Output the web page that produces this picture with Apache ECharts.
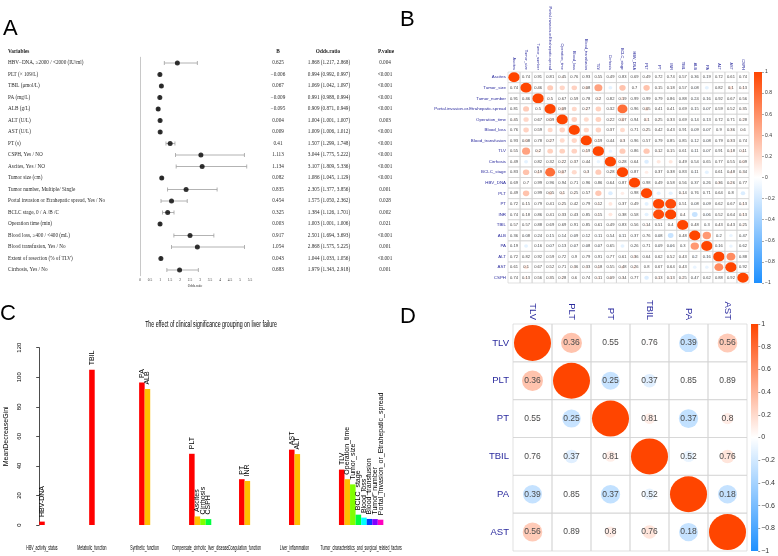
<!DOCTYPE html>
<html><head><meta charset="utf-8">
<script src="https://cdn.jsdelivr.net/npm/echarts@6/dist/echarts.min.js"></script>
<style>html,body{margin:0;padding:0;background:#fff}#main{width:778px;height:556px}</style>
</head><body><div id="main"></div>
<script>
// ================= Panel A data =================
const aHeaders = ['Variables', 'B', 'Odds.ratio', 'P.value'];
const aVariables = [
  'HBV\u2212DNA, \u22652000 / <2000 (IU/ml)', 'PLT (\u00d7 109/L)', 'TBIL (\u03bcmol/L)', 'PA (mg/L)', 'ALB (g/L)',
  'ALT (U/L)', 'AST (U/L)', 'PT (s)', 'CSPH, Yes / NO', 'Ascites, Yes / NO', 'Tumor size (cm)',
  'Tumor number, Multiple/ Single', 'Portal invasion or Etrahepatic spread, Yes / No', 'BCLC stage, 0 / A /B /C',
  'Operation time (min)', 'Blood loss, \u2265400 / <400 (mL)', 'Blood transfusion, Yes / No',
  'Extent of resection (% of TLV)', 'Cirrhosis, Yes / No'
];
const aBeta = [0.625, -0.006, 0.067, -0.009, -0.095, 0.004, 0.009, 0.41, 1.113, 1.134, 0.082, 0.835, 0.454, 0.325, 0.003, 0.917, 1.054, 0.043, 0.683];
const aOR   = [1.868, 0.994, 1.069, 0.991, 0.909, 1.004, 1.009, 1.507, 3.044, 3.107, 1.086, 2.305, 1.575, 1.384, 1.003, 2.501, 2.868, 1.044, 1.979];
const aLow  = [1.217, 0.992, 1.042, 0.988, 0.871, 1.001, 1.006, 1.299, 1.775, 1.809, 1.045, 1.377, 1.050, 1.126, 1.001, 1.694, 1.575, 1.033, 1.343];
const aHigh = [2.868, 0.997, 1.097, 0.994, 0.949, 1.007, 1.012, 1.748, 5.222, 5.336, 1.129, 3.856, 2.362, 1.701, 1.006, 3.693, 5.225, 1.056, 2.918];
const aPval = ['0.004', '<0.001', '<0.001', '<0.001', '<0.001', '0.003', '<0.001', '<0.001', '<0.001', '<0.001', '<0.001', '0.001', '0.028', '0.002', '0.021', '<0.001', '0.001', '<0.001', '0.001'];

// ================= Panel B data =================
const bVars = ['Ascites', 'Tumor_size', 'Tumor_number', 'Portal.invasion.or.Etrahepatic.spread', 'Operation_time', 'Blood_loss',
  'Blood_transfusion', 'TLV', 'Cirrhosis', 'BCLC_stage', 'HBV_DNA', 'PLT', 'PT', 'INR', 'TBIL', 'ALB', 'PA', 'ALT', 'AST', 'CSPH'];
// lower triangle p-values (null = significant, no text)
const bP = [
  [],
  [.74],
  [.91, .46],
  [.81, null, .5],
  [.45, null, .67, .09],
  [.76, null, .59, null, null],
  [.93, .08, .78, .27, null, null],
  [.55, null, .2, null, null, null, .19],
  [.49, null, .82, .32, .22, .37, .44, null],
  [.83, null, .19, null, .07, null, .3, null, .28],
  [.69, .7, .99, .96, .94, .71, .96, .86, .64, .87],
  [.49, null, .99, .05, .1, .25, .57, null, null, null, .98],
  [.72, .15, .79, .41, .25, .42, .79, .12, null, .37, .49, null],
  [.74, .18, .86, .41, .33, .43, .85, .15, null, .38, .58, null, null],
  [.57, .57, .88, .69, .69, .91, .85, .61, .49, .83, .56, .14, .51, .4],
  [.36, .08, .24, .15, .14, .09, .12, .11, .54, .11, .37, .76, .08, null, .48],
  [.19, null, .16, .07, .13, .07, .08, .07, .65, null, .26, .71, .09, .06, .3, null],
  [.72, .82, .92, .59, .72, .9, .79, .91, .77, .61, .36, .64, .62, .52, .43, .2, .16],
  [.61, .1, .67, .52, .71, .36, .33, .18, .55, .48, .26, .8, .67, .64, .43, null, null, null],
  [.74, .13, .56, .35, .28, .6, .74, .11, .09, .34, .77, null, .13, .13, .25, .47, .62, .88, .92]
];
// lower triangle correlations
const bR = [
  [],
  [0.03],
  [0.01, 0.08],
  [0.02, 0.28, 0.06],
  [0.07, 0.22, 0.04, 0.14],
  [0.03, 0.24, 0.05, 0.21, 0.24],
  [0.01, 0.13, 0.03, 0.1, 0.2, 0.22],
  [0.05, 0.5, 0.12, 0.25, 0.25, 0.24, 0.12],
  [0.04, -0.12, 0.02, 0.06, 0.08, 0.06, 0.05, -0.1],
  [0.02, 0.32, 0.12, 0.78, 0.15, 0.2, 0.09, 0.28, 0.08],
  [0.03, 0.03, 0.01, 0.0, 0.01, 0.03, 0.0, 0.02, 0.04, 0.02],
  [0.05, 0.32, 0.0, 0.14, 0.12, 0.08, 0.04, 0.3, -0.16, 0.1, 0.0],
  [0.03, 0.06, 0.02, 0.05, 0.07, 0.05, 0.02, 0.08, 0.13, 0.05, 0.05, -0.13],
  [0.03, 0.06, 0.01, 0.05, 0.06, 0.05, 0.02, 0.07, 0.13, 0.05, 0.04, -0.13, 0.96],
  [0.04, 0.04, 0.01, 0.03, 0.03, 0.01, 0.02, 0.04, 0.05, 0.02, 0.04, 0.08, 0.05, 0.06],
  [-0.04, -0.06, -0.05, -0.05, -0.05, -0.06, -0.05, -0.06, -0.03, -0.06, -0.04, 0.02, -0.06, -0.25, 0.04],
  [-0.05, -0.12, -0.05, -0.06, -0.05, -0.06, -0.06, -0.06, -0.02, -0.12, -0.04, -0.02, -0.06, -0.08, -0.04, 0.55],
  [0.03, 0.02, 0.01, 0.04, 0.03, 0.01, 0.02, 0.01, 0.03, 0.04, 0.1, 0.04, 0.04, 0.05, 0.06, -0.07, -0.08],
  [0.04, 0.14, 0.04, 0.05, 0.03, 0.08, 0.08, 0.1, 0.05, 0.1, 0.1, 0.02, 0.04, 0.04, 0.06, -0.1, -0.1, 0.62],
  [0.03, 0.1, 0.05, 0.07, 0.08, 0.05, 0.03, 0.1, 0.1, 0.07, 0.03, -0.16, 0.1, 0.1, 0.08, -0.05, -0.04, 0.01, 0.01]
];

// ================= Panel C data =================
const cTitle = 'The effect of clinical significance grouping on liver failure';
const cGroups = ['HBV_activity_status', 'Metabolic_function', 'Synthetic_function', 'Compensate_cirrhotic_liver_disease',
  'Coagulation_function', 'Liver_inflammation', 'Tumor_characteristics_and_surgical_related_factors'];
const cVars = [
  ['HBV-DNA'], ['TBIL'], ['PA', 'ALB'], ['PLT', 'Ascites', 'Cirrhosis', 'CSPH'], ['PT', 'INR'], ['AST', 'ALT'],
  ['TLV', 'Operation_time', 'Tumor_size', 'BCLC_stage', 'Blood_loss', 'Blood_transfusion', 'Tumor_number', 'Portal_invasion_or_Etrahepatic_spread']
];
const cValues = [
  [2.3], [105], [96.5, 92], [48.2, 5.8, 4.1, 4.0], [31, 29.8], [51, 48],
  [37.5, 31, 27.5, 7, 5, 4.1, 4, 3.6]
];
const cPalette = ['#FF0000', '#FFBF00', '#80FF00', '#00FF40', '#00FFFF', '#0040FF', '#8000FF', '#FF00BF'];

// ================= Panel D data =================
const dVars = ['TLV', 'PLT', 'PT', 'TBIL', 'PA', 'AST'];
const dP = [[], [.36], [.55, .25], [.76, .37, .81], [.39, .85, .37, .52], [.56, .89, .8, .76, .18]];
const dR = [[], [0.32], [0.02, -0.25], [0.02, -0.14, 0.09], [-0.26, 0.01, -0.27, -0.1], [0.28, 0.01, 0.1, 0.14, -0.26]];

const colorbarTicks = { min: -1, max: 1, step: 0.2 };

// ================= helpers =================
const SANS = 'Liberation Sans, Arial, sans-serif';
const SERIF = 'Liberation Serif, Times New Roman, serif';
const POS = [255, 69, 0], NEG = [30, 144, 255];
function corrColor(r) {
  const t = Math.min(1, Math.abs(r)), b = r >= 0 ? POS : NEG;
  const c = b.map(v => Math.round(255 + (v - 255) * t));
  return 'rgb(' + c.join(',') + ')';
}
function buildCells(R, P, n) {
  const cells = [];
  for (let i = 0; i < n; i++) for (let j = 0; j < n; j++) {
    let r, p;
    if (i === j) { r = 1; p = null; }
    else if (i > j) { r = R[i][j]; p = P[i][j]; }
    else { r = R[j][i]; p = P[j][i]; }
    cells.push({ col: j, row: i, r: r, p: p });
  }
  return cells;
}
const bCells = buildCells(bR, bP, bVars.length);
const dCells = buildCells(dR, dP, dVars.length);

function cellRenderer(cells, fontSize, factor) {
  return function (params, api) {
    const c = cells[params.dataIndex];
    const pt = api.coord([api.value(0), api.value(1)]);
    const sz = api.size([1, 1]);
    const w = sz[0], h = sz[1];
    const children = [{ type: 'rect', shape: { x: pt[0] - w / 2, y: pt[1] - h / 2, width: w, height: h },
      style: { fill: null, stroke: '#d4d4d4', lineWidth: 0.7 } }];
    const k = Math.sqrt(Math.abs(c.r));
    if (k > 0.001) {
      const m = Math.min(w, h);
      children.push({ type: 'circle', x: pt[0], y: pt[1], scaleX: w / m, scaleY: h / m,
        shape: { cx: 0, cy: 0, r: factor * m * k }, style: { fill: corrColor(c.r) } });
    }
    if (c.p !== null && c.p !== undefined) {
      children.push({ type: 'text', x: pt[0], y: pt[1], style: { text: String(c.p), fontSize: fontSize, fill: '#4a4a4a',
        align: 'center', verticalAlign: 'middle', fontFamily: SANS } });
    }
    return { type: 'group', children: children };
  };
}
function colorbarRenderer(params, api) {
  const top = api.coord([0, 1])[1], bot = api.coord([0, -1])[1];
  const cs = params.coordSys;
  return { type: 'rect', shape: { x: cs.x, y: top, width: cs.width, height: bot - top },
    style: { fill: { type: 'linear', x: 0, y: 0, x2: 0, y2: 1, colorStops: [
      { offset: 0, color: '#FF4500' }, { offset: 0.5, color: '#FFFFFF' }, { offset: 1, color: '#1E90FF' }] } } };
}
function fmtNum(v) { return String(v).replace('-', '\u2212'); }

// bars for C
const cBars = [];
const SLOTS = 9;
cValues.forEach((vals, g) => vals.forEach((v, j) => {
  cBars.push({ x: g * SLOTS + j + 0.5, v: v, name: cVars[g][j], color: cPalette[j] });
}));
const cGroupCenters = cGroups.map((name, g) => [g * SLOTS + cValues[g].length / 2, 0]);

const chart = echarts.init(document.getElementById('main'), null, { renderer: 'canvas' });
const LABELBLUE = '#2b2b9e';
const option = {
  backgroundColor: '#fff',
  animation: false,
  textStyle: { fontFamily: SANS },
  grid: [
    { left: 140, top: 57.25, width: 110, height: 218.5 },   // A forest
    { left: 508, top: 72, width: 241, height: 211 },         // B corr
    { left: 754, top: 72, width: 8, height: 211 },           // B colorbar
    { left: 39.2, top: 347.7, width: 349.7, height: 177.3 }, // C bars
    { left: 513, top: 324, width: 234, height: 227 },        // D corr
    { left: 751, top: 324, width: 9, height: 227 }           // D colorbar
  ],
  xAxis: [
    { gridIndex: 0, type: 'value', min: 0, max: 5.5, interval: 0.5,
      axisLine: { lineStyle: { color: '#444', width: 0.6 } }, axisTick: { length: 2, lineStyle: { color: '#444', width: 0.6 } },
      axisLabel: { fontSize: 3.5, margin: 2, color: '#333', fontFamily: SERIF }, splitLine: { show: false },
      name: 'Odds.ratio', nameLocation: 'middle', nameGap: 8, nameTextStyle: { fontSize: 3.5, color: '#333', fontFamily: SERIF } },
    { gridIndex: 1, type: 'category', data: bVars, position: 'top', axisLine: { show: false }, axisTick: { show: false },
      axisLabel: { rotate: 90, fontSize: 3.9, margin: 2, color: LABELBLUE, interval: 0 } },
    { gridIndex: 2, type: 'category', data: [''], show: false },
    { gridIndex: 3, type: 'value', min: 0, max: 63, show: false },
    { gridIndex: 4, type: 'category', data: dVars, position: 'top', axisLine: { show: false }, axisTick: { show: false },
      axisLabel: { rotate: 90, fontSize: 9.5, margin: 4, color: LABELBLUE, interval: 0 } },
    { gridIndex: 5, type: 'category', data: [''], show: false }
  ],
  yAxis: [
    { gridIndex: 0, type: 'category', data: aVariables, inverse: true, axisLabel: { show: false }, axisTick: { show: false },
      axisLine: { lineStyle: { color: '#c8c8c8', width: 1 } } },
    { gridIndex: 1, type: 'category', data: bVars, inverse: true, axisLine: { show: false }, axisTick: { show: false },
      axisLabel: { fontSize: 4.4, margin: 2, color: LABELBLUE, interval: 0 } },
    { gridIndex: 2, type: 'value', min: colorbarTicks.min, max: colorbarTicks.max, interval: colorbarTicks.step, position: 'right',
      axisLine: { show: false }, splitLine: { show: false }, axisTick: { show: true, length: 2, lineStyle: { color: '#555', width: 0.5 } },
      axisLabel: { fontSize: 5, margin: 3, color: '#333', formatter: fmtNum } },
    { gridIndex: 3, type: 'value', min: 0, max: 120, interval: 20, offset: 14.2,
      axisLine: { show: true, lineStyle: { color: '#000', width: 0.7 } }, axisTick: { show: true, length: 3, lineStyle: { color: '#000', width: 0.7 } },
      splitLine: { show: false }, axisLabel: { rotate: 90, fontSize: 6, margin: 3, color: '#000' },
      name: 'MeanDecreaseGini', nameLocation: 'middle', nameRotate: 90, nameGap: 15, nameTextStyle: { fontSize: 7, color: '#000' } },
    { gridIndex: 4, type: 'category', data: dVars, inverse: true, axisLine: { show: false }, axisTick: { show: false },
      axisLabel: { fontSize: 9.5, margin: 4, color: LABELBLUE, interval: 0 } },
    { gridIndex: 5, type: 'value', min: colorbarTicks.min, max: colorbarTicks.max, interval: colorbarTicks.step, position: 'right',
      axisLine: { show: false }, splitLine: { show: false }, axisTick: { show: true, length: 2, lineStyle: { color: '#555', width: 0.6 } },
      axisLabel: { fontSize: 7, margin: 3, color: '#333', formatter: fmtNum } }
  ],
  graphic: [
    { type: 'text', left: 3, top: 18, style: { text: 'A', fontSize: 22, fill: '#000', fontFamily: SANS } },
    { type: 'text', left: 400, top: 9, style: { text: 'B', fontSize: 22, fill: '#000', fontFamily: SANS } },
    { type: 'text', left: 0, top: 303, style: { text: 'C', fontSize: 22, fill: '#000', fontFamily: SANS } },
    { type: 'text', left: 400, top: 306, style: { text: 'D', fontSize: 22, fill: '#000', fontFamily: SANS } },
    { type: 'text', x: 8, y: 52, style: { text: aHeaders[0], fontSize: 5.3, fontWeight: 'bold', fill: '#222', fontFamily: SERIF, align: 'left', verticalAlign: 'middle' } },
    { type: 'text', x: 278, y: 52, style: { text: aHeaders[1], fontSize: 5.3, fontWeight: 'bold', fill: '#222', fontFamily: SERIF, align: 'center', verticalAlign: 'middle' } },
    { type: 'text', x: 328, y: 52, style: { text: aHeaders[2], fontSize: 5.3, fontWeight: 'bold', fill: '#222', fontFamily: SERIF, align: 'center', verticalAlign: 'middle' } },
    { type: 'text', x: 386, y: 52, style: { text: aHeaders[3], fontSize: 5.3, fontWeight: 'bold', fill: '#222', fontFamily: SERIF, align: 'center', verticalAlign: 'middle' } },
    { type: 'text', x: 211, y: 325, scaleX: 0.62, style: { text: cTitle, fontSize: 8.5, fill: '#000', fontFamily: SANS, align: 'center', verticalAlign: 'middle' } }
  ],
  series: [
    // A: table texts
    { type: 'custom', xAxisIndex: 0, yAxisIndex: 0, silent: true,
      data: aVariables.map((v, i) => [0, i]),
      renderItem: function (params, api) {
        const i = params.dataIndex;
        const y = api.coord([0, api.value(1)])[1];
        const st = { fontSize: 5.2, fill: '#2a2a2a', fontFamily: SERIF, verticalAlign: 'middle' };
        const or = aOR[i].toFixed(3) + ' (' + aLow[i].toFixed(3) + ', ' + aHigh[i].toFixed(3) + ')';
        return { type: 'group', children: [
          { type: 'text', x: 8, y: y, style: Object.assign({ text: aVariables[i], align: 'left' }, st) },
          { type: 'text', x: 278, y: y, style: Object.assign({ text: fmtNum(aBeta[i]), align: 'center' }, st) },
          { type: 'text', x: 329, y: y, style: Object.assign({ text: or, align: 'center' }, st) },
          { type: 'text', x: 385, y: y, style: Object.assign({ text: aPval[i], align: 'center' }, st) }
        ] };
      } },
    // A: CI whiskers
    { type: 'custom', xAxisIndex: 0, yAxisIndex: 0, silent: true,
      encode: { x: [0, 1], y: 2 },
      data: aOR.map((v, i) => [aLow[i], aHigh[i], i]),
      renderItem: function (params, api) {
        const p1 = api.coord([api.value(0), api.value(2)]);
        const p2 = api.coord([api.value(1), api.value(2)]);
        const ls = { stroke: '#a0a0a0', lineWidth: 0.8 };
        return { type: 'group', children: [
          { type: 'line', shape: { x1: p1[0], y1: p1[1], x2: p2[0], y2: p2[1] }, style: ls },
          { type: 'line', shape: { x1: p1[0], y1: p1[1] - 2, x2: p1[0], y2: p1[1] + 2 }, style: ls },
          { type: 'line', shape: { x1: p2[0], y1: p2[1] - 2, x2: p2[0], y2: p2[1] + 2 }, style: ls }
        ] };
      } },
    // A: points
    { type: 'scatter', xAxisIndex: 0, yAxisIndex: 0, silent: true, symbolSize: 5, itemStyle: { color: '#000' },
      data: aOR.map((v, i) => [v, i]) },
    // B: corrplot
    { type: 'custom', xAxisIndex: 1, yAxisIndex: 1, silent: true,
      data: bCells.map(c => [c.col, c.row]), renderItem: cellRenderer(bCells, 4.1, 0.47) },
    // B colorbar
    { type: 'custom', xAxisIndex: 2, yAxisIndex: 2, silent: true, data: [[0, 0]], renderItem: colorbarRenderer },
    // C bars
    { type: 'custom', xAxisIndex: 3, yAxisIndex: 3, silent: true,
      data: cBars.map(b => [b.x, b.v]),
      renderItem: function (params, api) {
        const b = cBars[params.dataIndex];
        const tl = api.coord([api.value(0) - 0.5, api.value(1)]);
        const br = api.coord([api.value(0) + 0.5, 0]);
        const cx = (tl[0] + br[0]) / 2;
        return { type: 'group', children: [
          { type: 'rect', shape: { x: tl[0], y: tl[1], width: br[0] - tl[0], height: br[1] - tl[1] }, style: { fill: b.color } },
          { type: 'text', x: cx, y: tl[1] - 4.5, rotation: Math.PI / 2,
            style: { text: b.name, fontSize: 7, fill: '#000', fontFamily: SANS, align: 'left', verticalAlign: 'middle' } }
        ] };
      } },
    // C group labels
    { type: 'custom', xAxisIndex: 3, yAxisIndex: 3, silent: true,
      data: cGroupCenters,
      renderItem: function (params, api) {
        const p = api.coord([api.value(0), api.value(1)]);
        return { type: 'text', x: p[0], y: p[1] + 23, scaleX: 0.54,
          style: { text: cGroups[params.dataIndex], fontSize: 6.5, fill: '#000', fontFamily: SANS, align: 'center', verticalAlign: 'middle' } };
      } },
    // D: corrplot
    { type: 'custom', xAxisIndex: 4, yAxisIndex: 4, silent: true,
      data: dCells.map(c => [c.col, c.row]), renderItem: cellRenderer(dCells, 8.5, 0.475) },
    // D colorbar
    { type: 'custom', xAxisIndex: 5, yAxisIndex: 5, silent: true, data: [[0, 0]], renderItem: colorbarRenderer }
  ]
};
chart.setOption(option);
</script>
</body></html>
